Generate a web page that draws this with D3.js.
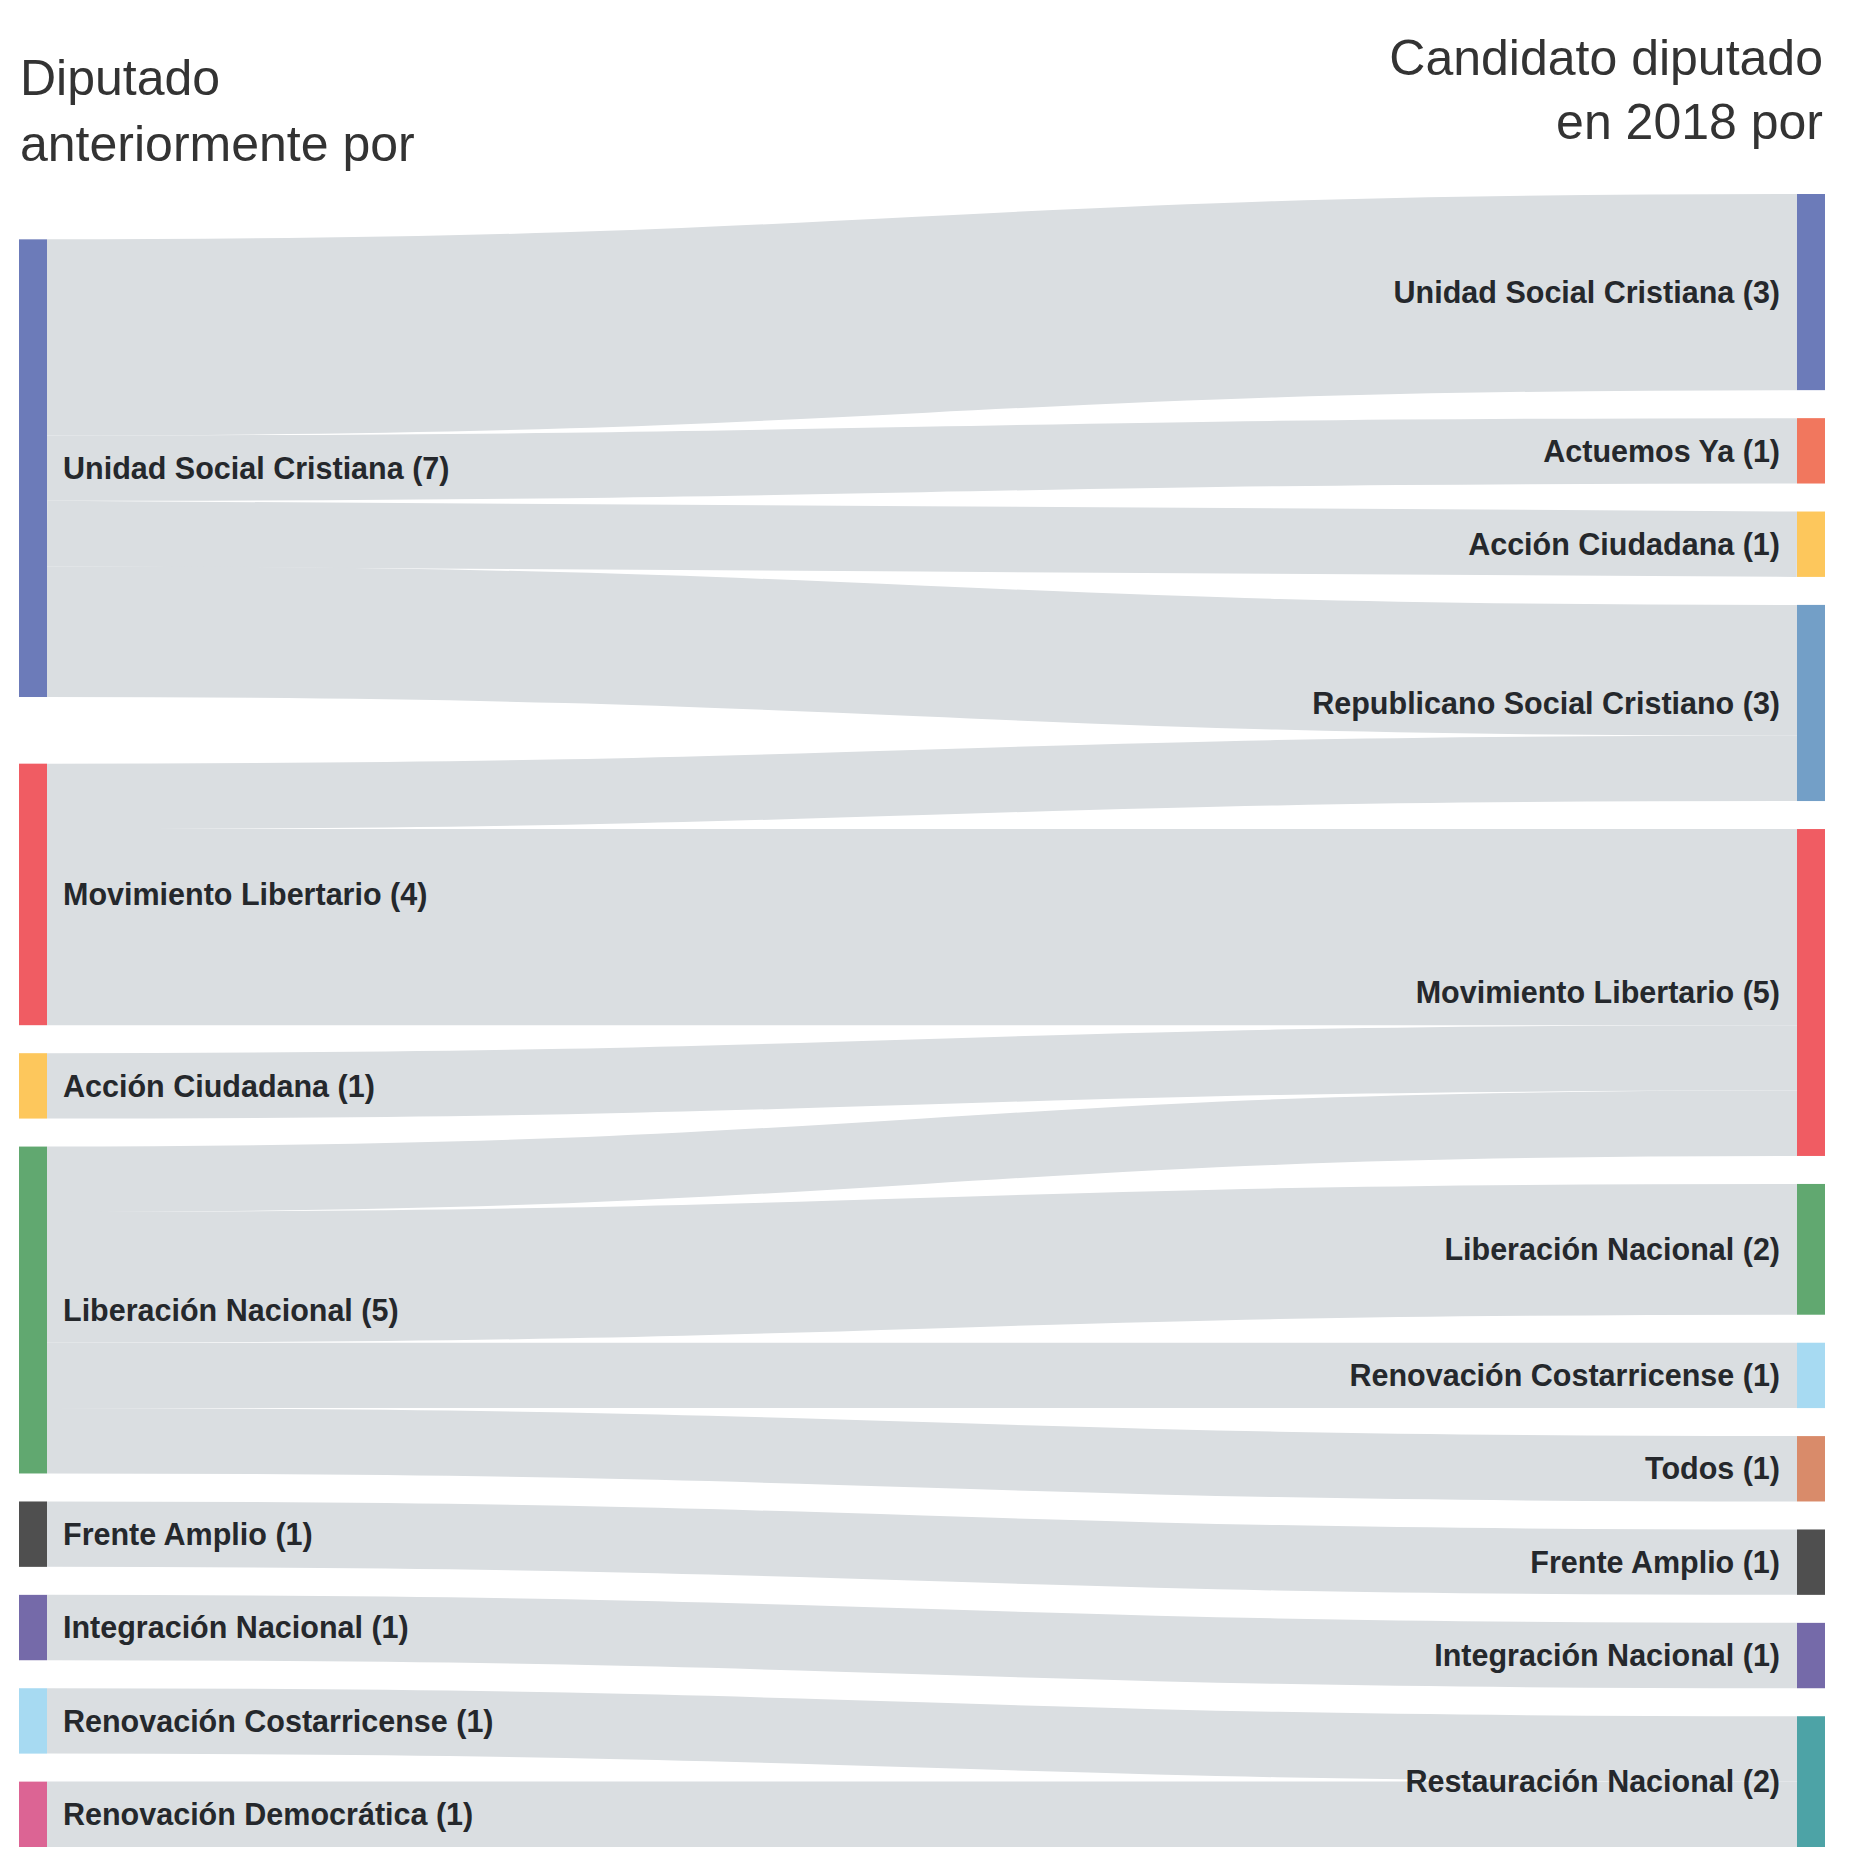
<!DOCTYPE html>
<html>
<head>
<meta charset="utf-8">
<script src="https://cdn.jsdelivr.net/npm/d3@7"></script>
<style>
  body { margin: 0; background: #fff; }
  text { font-family: "Liberation Sans", Arial, Helvetica, sans-serif; }
</style>
</head>
<body>
<div id="chart"></div>
<script>
// partidos (columna izquierda = antes, derecha = 2018)
const leftParties = ["Unidad Social Cristiana", "Movimiento Libertario", "Acción Ciudadana",
  "Liberación Nacional", "Frente Amplio", "Integración Nacional",
  "Renovación Costarricense", "Renovación Democrática"];
const rightParties = ["Unidad Social Cristiana", "Actuemos Ya", "Acción Ciudadana",
  "Republicano Social Cristiano", "Movimiento Libertario", "Liberación Nacional",
  "Renovación Costarricense", "Todos", "Frente Amplio", "Integración Nacional",
  "Restauración Nacional"];

// flujos
const flowFrom = ["Unidad Social Cristiana", "Unidad Social Cristiana", "Unidad Social Cristiana",
  "Unidad Social Cristiana", "Movimiento Libertario", "Movimiento Libertario", "Acción Ciudadana",
  "Liberación Nacional", "Liberación Nacional", "Liberación Nacional", "Liberación Nacional",
  "Frente Amplio", "Integración Nacional", "Renovación Costarricense", "Renovación Democrática"];
const flowTo = ["Unidad Social Cristiana", "Actuemos Ya", "Acción Ciudadana",
  "Republicano Social Cristiano", "Republicano Social Cristiano", "Movimiento Libertario",
  "Movimiento Libertario", "Movimiento Libertario", "Liberación Nacional",
  "Renovación Costarricense", "Todos", "Frente Amplio", "Integración Nacional",
  "Restauración Nacional", "Restauración Nacional"];
const flowValues = [3, 1, 1, 2, 1, 3, 1, 1, 2, 1, 1, 1, 1, 1, 1];

const partyColors = {
  "Unidad Social Cristiana": "#6c7bb9",
  "Movimiento Libertario": "#f05c63",
  "Acción Ciudadana": "#fdc75c",
  "Liberación Nacional": "#61a870",
  "Frente Amplio": "#4f4f4f",
  "Integración Nacional": "#756aa9",
  "Renovación Costarricense": "#a7daf2",
  "Renovación Democrática": "#dc6494",
  "Actuemos Ya": "#f1775e",
  "Republicano Social Cristiano": "#739fc7",
  "Todos": "#d98b6a",
  "Restauración Nacional": "#4da3a6"
};

const titleLeft = ["Diputado", "anteriormente por"];
const titleRight = ["Candidato diputado", "en 2018 por"];

const W = 1853, H = 1873;
const X0 = 19, X1 = 1825, Y0 = 194, Y1 = 1847;
const nodeWidth = 28, nodePadding = 28, iterations = 32;

const svg = d3.select("#chart").append("svg")
  .attr("width", W).attr("height", H);

// ---- layout sankey (algoritmo clásico del plugin d3.sankey) ----
const nodes = [
  ...leftParties.map(name => ({name, layer: 0})),
  ...rightParties.map(name => ({name, layer: 1}))
];
nodes.forEach(n => { n.sourceLinks = []; n.targetLinks = []; });
const links = flowValues.map((value, i) => ({
  source: nodes.find(n => n.layer === 0 && n.name === flowFrom[i]),
  target: nodes.find(n => n.layer === 1 && n.name === flowTo[i]),
  value
}));
links.forEach(l => { l.source.sourceLinks.push(l); l.target.targetLinks.push(l); });
nodes.forEach(n => n.value = Math.max(d3.sum(n.sourceLinks, l => l.value), d3.sum(n.targetLinks, l => l.value)));

const columns = [0, 1].map(k => nodes.filter(n => n.layer === k));
const x = d3.scaleLinear().domain([0, 1]).range([X0, X1 - nodeWidth]);
nodes.forEach(n => { n.x0 = x(n.layer); n.x1 = n.x0 + nodeWidth; });

const ky = d3.min(columns, c => (Y1 - Y0 - (c.length - 1) * nodePadding) / d3.sum(c, n => n.value));
const hScale = d3.scaleLinear().domain([0, 1]).range([0, ky]);

nodes.forEach(n => { n.dy = hScale(n.value); });
columns.forEach(c => c.forEach((n, i) => { n.y = i; }));
links.forEach(l => { l.dy = hScale(l.value); });

const center = n => n.y + n.dy / 2;

function resolveCollisions() {
  columns.forEach(col => {
    col.sort((a, b) => a.y - b.y);
    let y0 = 0, node;
    for (let i = 0; i < col.length; ++i) {
      node = col[i];
      const dy = y0 - node.y;
      if (dy > 0) node.y += dy;
      y0 = node.y + node.dy + nodePadding;
    }
    const over = y0 - nodePadding - (Y1 - Y0);
    if (over > 0) {
      y0 = node.y -= over;
      for (let i = col.length - 2; i >= 0; --i) {
        node = col[i];
        const dy = node.y + node.dy + nodePadding - y0;
        if (dy > 0) node.y -= dy;
        y0 = node.y;
      }
    }
  });
}

resolveCollisions();
for (let alpha = 1, it = iterations; it > 0; --it) {
  alpha *= 0.99;
  columns[0].forEach(n => {
    if (!n.sourceLinks.length) return;
    const c = d3.sum(n.sourceLinks, l => center(l.target) * l.value) / d3.sum(n.sourceLinks, l => l.value);
    n.y += (c - center(n)) * alpha;
  });
  resolveCollisions();
  columns[1].forEach(n => {
    if (!n.targetLinks.length) return;
    const c = d3.sum(n.targetLinks, l => center(l.source) * l.value) / d3.sum(n.targetLinks, l => l.value);
    n.y += (c - center(n)) * alpha;
  });
  resolveCollisions();
}

nodes.forEach(n => { n.y0 = Y0 + n.y; n.y1 = n.y0 + n.dy; });
nodes.forEach(n => {
  n.sourceLinks.sort((a, b) => a.target.y - b.target.y);
  n.targetLinks.sort((a, b) => a.source.y - b.source.y);
  let a = n.y0, b = n.y0;
  n.sourceLinks.forEach(l => { l.y0 = a + l.dy / 2; a += l.dy; });
  n.targetLinks.forEach(l => { l.y1 = b + l.dy / 2; b += l.dy; });
});

// ---- dibujo ----
const linkPath = d3.linkHorizontal()
  .source(d => [d.source.x1, d.y0])
  .target(d => [d.target.x0, d.y1]);

svg.append("g")
  .selectAll("path")
  .data(links)
  .join("path")
  .attr("d", linkPath)
  .attr("fill", "none")
  .attr("stroke", "#dadee1")
  .attr("stroke-width", d => Math.max(1, d.dy));

svg.append("g")
  .selectAll("rect")
  .data(nodes)
  .join("rect")
  .attr("x", d => d.x0)
  .attr("y", d => d.y0)
  .attr("width", d => d.x1 - d.x0)
  .attr("height", d => d.y1 - d.y0)
  .attr("fill", d => partyColors[d.name]);

svg.append("g")
  .selectAll("text")
  .data(nodes)
  .join("text")
  .attr("x", d => d.layer === 0 ? d.x1 + 16 : d.x0 - 17)
  .attr("y", d => (d.y0 + d.y1) / 2)
  .attr("dy", "0.35em")
  .attr("text-anchor", d => d.layer === 0 ? "start" : "end")
  .attr("font-size", 30.5)
  .attr("font-weight", "bold")
  .attr("fill", "#25282c")
  .text(d => `${d.name} (${d.value})`);

// títulos de columna
svg.append("text")
  .attr("font-size", 50)
  .attr("fill", "#333")
  .selectAll("tspan")
  .data(titleLeft)
  .join("tspan")
  .attr("x", 20)
  .attr("y", (d, i) => 95 + i * 66)
  .text(d => d);

svg.append("text")
  .attr("font-size", 50)
  .attr("fill", "#333")
  .attr("text-anchor", "end")
  .selectAll("tspan")
  .data(titleRight)
  .join("tspan")
  .attr("x", 1823)
  .attr("y", (d, i) => 75 + i * 64)
  .text(d => d);
</script>
</body>
</html>
